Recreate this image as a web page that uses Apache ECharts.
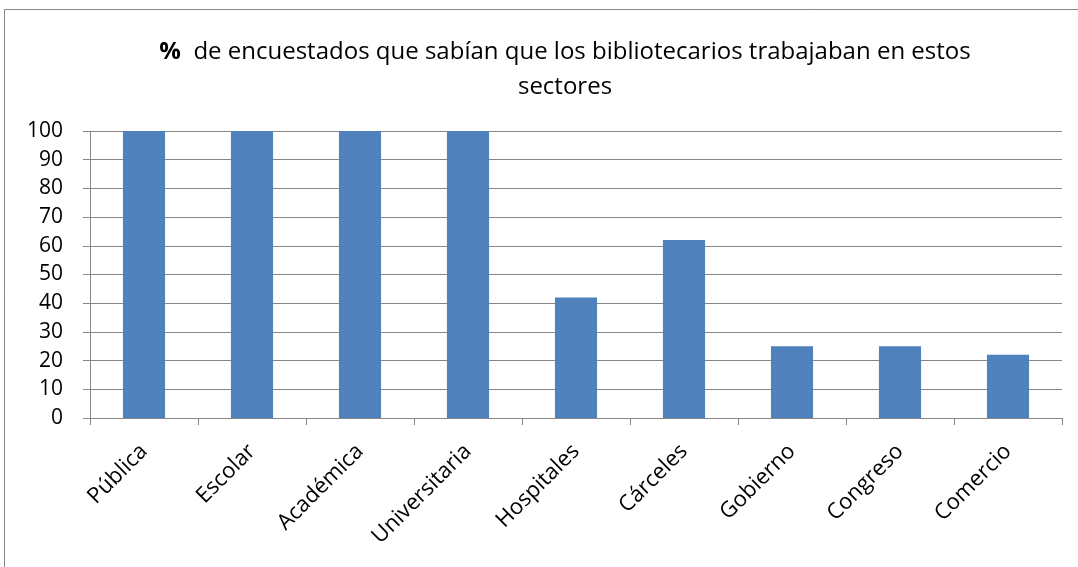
<!DOCTYPE html>
<html>
<head>
<meta charset="utf-8">
<script src="https://cdn.jsdelivr.net/npm/echarts@6/dist/echarts.min.js"></script>
<style>
  html, body { margin: 0; padding: 0; background: #fff; }
  #chart { width: 1078px; height: 567px; }
</style>
</head>
<body>
<div id="chart"></div>
<script>
  // datos del gráfico
  var sectores = ['Pública', 'Escolar', 'Académica', 'Universitaria', 'Hospitales', 'Cárceles', 'Gobierno', 'Congreso', 'Comercio'];
  var porcentajes = [100, 100, 100, 100, 42, 62, 25, 25, 22];
  var yMin = 0, yMax = 100, yPaso = 10;

  var fuente = '"Open Sans", "Liberation Sans", Arial, sans-serif';

  var option = {
    animation: false,
    backgroundColor: '#fff',
    title: {
      text: '{b|%}  de encuestados que sabían que los bibliotecarios trabajaban en estos\nsectores',
      left: 560,
      top: 30,
      textAlign: 'center',
      textStyle: {
        fontFamily: fuente,
        fontSize: 24,
        fontWeight: 'normal',
        color: '#000',
        lineHeight: 35,
        rich: {
          b: { fontFamily: fuente, fontSize: 24, fontWeight: 'bold', color: '#000', lineHeight: 35 }
        }
      }
    },
    graphic: [
      {
        // marco exterior
        type: 'rect',
        shape: { x: 4.5, y: 9.5, width: 1200, height: 700 },
        style: { fill: 'none', stroke: '#868686', lineWidth: 1 },
        silent: true
      }
    ],
    grid: {
      left: 90,
      right: 16,
      top: 131,
      bottom: 149
    },
    xAxis: {
      type: 'category',
      data: sectores,
      axisLine: { lineStyle: { color: '#868686', width: 1 } },
      axisTick: { show: true, length: 7, lineStyle: { color: '#868686' } },
      axisLabel: {
        interval: 0,
        rotate: 45,
        margin: 30,
        fontFamily: fuente,
        fontSize: 22,
        color: '#000'
      }
    },
    yAxis: {
      type: 'value',
      min: yMin,
      max: yMax,
      interval: yPaso,
      axisLine: { show: true, lineStyle: { color: '#868686', width: 1 } },
      axisTick: { show: true, length: 7, lineStyle: { color: '#868686' } },
      splitLine: { lineStyle: { color: '#868686', width: 1 } },
      axisLabel: {
        margin: 27,
        fontFamily: fuente,
        fontSize: 21,
        color: '#000'
      }
    },
    series: [
      {
        name: '%',
        type: 'bar',
        data: porcentajes,
        barWidth: '39%',
        itemStyle: { color: '#4f81bd' }
      }
    ]
  };

  echarts.init(document.getElementById('chart')).setOption(option);
</script>
</body>
</html>
